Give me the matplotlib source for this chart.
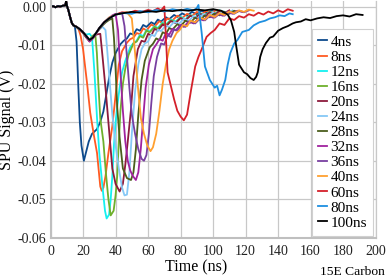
import matplotlib
matplotlib.use("Agg")
import matplotlib.pyplot as plt
from matplotlib.ticker import FormatStrFormatter

plt.rcParams['font.family'] = 'Liberation Serif'

# shared start of every trace (before the pulses separate)
lead_t = [0, 1.5, 3, 4.5, 6, 7.5, 9, 9.6, 10.2, 11, 12, 13, 14]
lead_v = [0.0, 0.0002, -0.0001, 0.0002, 0.0001, 0.0003, 0.0004, 0.0014, 0.0001, -0.0009, -0.0026, -0.0041, -0.0048]

t4 = [15, 16, 17, 18, 19, 20.5, 22, 23.5, 25.5, 28.5, 30.5, 32.5, 34, 36, 38, 40, 43, 45, 47, 49, 51, 53, 55, 57, 59, 62, 64,
      66, 68, 71, 73, 76, 78, 81, 84, 87, 90, 93, 96, 100]
v4 = [-0.0052, -0.009, -0.020, -0.030, -0.036, -0.0400, -0.0375, -0.0350, -0.0330, -0.0318, -0.0300, -0.0272, -0.0235, -0.0185,
      -0.0145, -0.0120, -0.0097, -0.0088, -0.0082, -0.0069, -0.0072, -0.0058, -0.0062, -0.0047, -0.0052, -0.0040, -0.0045,
      -0.0033, -0.0038, -0.0027, -0.0032, -0.0021, -0.0026, -0.0017, -0.0023, -0.0013, -0.0019, -0.0010, -0.0016, -0.0008]

t8 = [15.5, 17, 18.5, 20, 22.5, 24.4, 26.5, 28.6, 30.6, 31.5, 32.5, 33.8, 35.6, 38, 40, 42, 44, 47, 49, 51, 53, 55, 57, 59,
      62, 64, 67, 69, 72, 75, 78, 81, 84, 87, 90, 93, 96, 99, 102, 104]
v8 = [-0.0050, -0.0055, -0.0075, -0.0110, -0.0200, -0.0275, -0.0330, -0.0380, -0.0467, -0.0478, -0.0470, -0.0440, -0.0380, -0.0310,
      -0.0230, -0.0150, -0.0115, -0.0093, -0.0084, -0.0080, -0.0068, -0.0071, -0.0056, -0.0061, -0.0046, -0.0051, -0.0037, -0.0043,
      -0.0030, -0.0035, -0.0023, -0.0029, -0.0018, -0.0024, -0.0013, -0.0019, -0.0010, -0.0016, -0.0008, -0.0012]

t12 = [16, 18, 20, 22, 24, 25.5, 27, 28.6, 30, 32, 33.5, 34.5, 36, 37, 38, 39, 40, 41, 42.5, 44, 46, 49, 51, 53, 55, 57, 59, 61,
       64, 66, 69, 71, 74, 77, 80, 83, 86, 89, 92, 95, 98, 101, 104, 106]
v12 = [-0.0052, -0.0058, -0.0066, -0.0072, -0.0070, -0.0078, -0.017, -0.029, -0.038, -0.047, -0.053, -0.0550, -0.0540, -0.0500, -0.0440,
       -0.0360, -0.0300, -0.0260, -0.0210, -0.0170, -0.0140, -0.0105, -0.0094, -0.0088, -0.0072, -0.0076, -0.0060, -0.0064,
       -0.0050, -0.0055, -0.0040, -0.0046, -0.0033, -0.0038, -0.0026, -0.0032, -0.0021, -0.0027, -0.0016, -0.0022, -0.0012, -0.0018,
       -0.0009, -0.0013]

t16 = [16, 18, 20, 22, 24, 26, 27.5, 28.5, 29.4, 30.6, 32.5, 34, 35.6, 37, 38.8, 40, 41, 42, 43, 44.5, 46, 48, 51, 53, 55, 57, 59,
       61, 64, 66, 69, 71, 74, 77, 80, 83, 86, 89, 92, 95, 98, 101, 104, 108]
v16 = [-0.0052, -0.0060, -0.0068, -0.0078, -0.0085, -0.0075, -0.0070, -0.0120, -0.0200, -0.0290, -0.0350, -0.0430, -0.0500, -0.0542, -0.0530,
       -0.0490, -0.0440, -0.0350, -0.0270, -0.0200, -0.0160, -0.0125, -0.0095, -0.0090, -0.0076, -0.0080, -0.0062, -0.0066, -0.0052,
       -0.0057, -0.0043, -0.0048, -0.0035, -0.0040, -0.0028, -0.0034, -0.0022, -0.0028, -0.0017, -0.0023, -0.0013, -0.0019, -0.0010, -0.0014]

t20 = [16, 18, 20, 22, 24, 26, 28, 30.6, 32, 34, 36, 38, 40, 42.5, 44.5, 46, 47.5, 49.4, 51, 53.7, 56, 58, 60, 62, 64, 66, 69, 71,
       74, 77, 80, 83, 86, 89, 92, 95, 98, 101, 104, 107, 110]
v20 = [-0.0052, -0.0060, -0.0068, -0.0080, -0.0090, -0.0082, -0.0072, -0.0070, -0.0130, -0.0220, -0.0320, -0.0420, -0.0460, -0.0480, -0.0460,
       -0.0410, -0.0350, -0.0270, -0.0180, -0.0110, -0.0088, -0.0091, -0.0070, -0.0074, -0.0057, -0.0062, -0.0046, -0.0051, -0.0037,
       -0.0042, -0.0029, -0.0035, -0.0023, -0.0029, -0.0018, -0.0024, -0.0014, -0.0020, -0.0011, -0.0016, -0.0009]

t24 = [16, 18, 20, 22, 24, 26, 28, 30, 32, 33.8, 35, 36.5, 38, 40, 42, 44, 45.5, 47, 48.5, 50, 52, 54, 56, 58, 60, 62, 64, 66, 68,
       71, 73, 76, 79, 82, 85, 88, 91, 94, 97, 100, 103, 106, 109, 112]
v24 = [-0.0052, -0.0058, -0.0066, -0.0076, -0.0086, -0.0080, -0.0068, -0.0058, -0.0052, -0.0060, -0.0120, -0.0200, -0.0280, -0.0360, -0.0420,
       -0.0470, -0.0490, -0.0488, -0.0430, -0.0330, -0.0220, -0.0150, -0.0110, -0.0095, -0.0090, -0.0072, -0.0076, -0.0059, -0.0063,
       -0.0048, -0.0053, -0.0039, -0.0044, -0.0031, -0.0036, -0.0024, -0.0030, -0.0019, -0.0025, -0.0014, -0.0020, -0.0011, -0.0016, -0.0009]

t28 = [16, 18, 20, 22, 24, 26, 28, 30, 32, 34, 36, 38, 39, 40, 41, 42.5, 44.5, 47, 49.5, 51, 52.5, 54, 56, 58, 61, 63, 65, 67, 69,
       71, 73, 75, 78, 80, 83, 86, 89, 92, 95, 98, 101, 104, 107, 110, 113, 115]
v28 = [-0.0052, -0.0058, -0.0066, -0.0078, -0.0088, -0.0080, -0.0068, -0.0058, -0.0048, -0.0040, -0.0034, -0.0030, -0.0080, -0.0160, -0.0260,
       -0.0340, -0.0420, -0.0445, -0.0450, -0.0430, -0.0370, -0.0280, -0.0190, -0.0140, -0.0105, -0.0096, -0.0082, -0.0086, -0.0066,
       -0.0070, -0.0055, -0.0059, -0.0045, -0.0050, -0.0036, -0.0041, -0.0028, -0.0034, -0.0022, -0.0027, -0.0017, -0.0022, -0.0013,
       -0.0018, -0.0010, -0.0013]

t32 = [16, 18, 20, 22, 24, 26, 28, 30, 33, 36, 38, 40, 41.5, 43, 44.5, 46, 47.5, 49, 50.7, 52.5, 54, 55.5, 57, 58.5, 60.5, 63, 65,
       67, 69, 71, 73, 75, 77, 80, 82, 85, 88, 91, 94, 97, 100, 103, 106, 109, 112, 115, 118]
v32 = [-0.0052, -0.0058, -0.0066, -0.0078, -0.0090, -0.0082, -0.0070, -0.0056, -0.0040, -0.0030, -0.0022, -0.0018, -0.0060, -0.0170, -0.0270,
       -0.0350, -0.0400, -0.0425, -0.0440, -0.0450, -0.0430, -0.0370, -0.0290, -0.0210, -0.0150, -0.0110, -0.0098, -0.0084, -0.0088,
       -0.0068, -0.0072, -0.0057, -0.0061, -0.0047, -0.0052, -0.0038, -0.0043, -0.0030, -0.0035, -0.0023, -0.0028, -0.0018, -0.0023,
       -0.0013, -0.0018, -0.0010, -0.0013]

t36 = [16, 18, 20, 22, 24, 26, 28, 30, 33, 36, 39, 42, 44, 45.5, 47, 48.5, 50, 52, 54, 56, 57.5, 59, 60.5, 62, 63.5, 65.5, 68, 70,
       72, 74, 76, 78, 81, 83, 86, 89, 92, 95, 98, 101, 104, 107, 110, 113, 116, 119, 122]
v36 = [-0.0052, -0.0058, -0.0066, -0.0076, -0.0086, -0.0080, -0.0068, -0.0055, -0.0040, -0.0028, -0.0022, -0.0018, -0.0016, -0.0050, -0.0130,
       -0.0210, -0.0280, -0.0330, -0.0370, -0.0395, -0.0400, -0.0385, -0.0330, -0.0250, -0.0180, -0.0130, -0.0095, -0.0098, -0.0074,
       -0.0078, -0.0058, -0.0062, -0.0047, -0.0052, -0.0038, -0.0043, -0.0030, -0.0035, -0.0023, -0.0028, -0.0018, -0.0023, -0.0013,
       -0.0018, -0.0010, -0.0014, -0.0009]

t40 = [16, 18, 20, 22, 24, 26, 28, 30, 33, 36, 40, 44, 47, 50, 52, 54, 55.6, 57.5, 59.5, 61.5, 63, 65, 67, 69, 71, 73, 75, 77.5,
       79.5, 81.5, 84, 86, 89, 92, 95, 98, 101, 104, 107, 110, 113, 116, 119, 122, 125]
v40 = [-0.0052, -0.0058, -0.0066, -0.0076, -0.0086, -0.0080, -0.0068, -0.0055, -0.0040, -0.0028, -0.0020, -0.0016, -0.0014, -0.0030, -0.0120,
       -0.0220, -0.0290, -0.0330, -0.0360, -0.0375, -0.0365, -0.0330, -0.0270, -0.0200, -0.0150, -0.0110, -0.0088, -0.0068,
       -0.0060, -0.0047, -0.0050, -0.0036, -0.0040, -0.0028, -0.0033, -0.0021, -0.0026, -0.0016, -0.0021, -0.0012, -0.0017, -0.0009,
       -0.0013, -0.0007, -0.0010]

t60 = [16, 18, 20, 22, 24, 26, 28, 30, 33, 36, 40, 44, 48, 52, 56, 60, 63, 66, 68, 70, 71, 72, 74, 76, 78, 80, 82, 84, 86.5, 89, 91, 93,
       96, 98.5, 101, 104, 107, 110, 113, 116, 119, 122, 125, 128, 131, 134, 137, 140, 143, 146, 149]
v60 = [-0.0052, -0.0058, -0.0066, -0.0076, -0.0086, -0.0080, -0.0068, -0.0055, -0.0040, -0.0030, -0.0020, -0.0014, -0.0016, -0.0010, -0.0013,
       -0.0008, -0.0011, -0.0004, -0.0009, 0.0001, -0.0080, -0.0170, -0.0205, -0.0240, -0.0270, -0.0285, -0.0295, -0.0280, -0.0215, -0.0155,
       -0.0130, -0.0110, -0.0078, -0.0068, -0.0060, -0.0043, -0.0047, -0.0030, -0.0034, -0.0024, -0.0028, -0.0019, -0.0023, -0.0015, -0.0020,
       -0.0012, -0.0017, -0.0009, -0.0014, -0.0006, -0.0010]

t80 = [16, 18, 20, 22, 24, 26, 28, 30, 33, 36, 40, 45, 50, 55, 60, 65, 70, 75, 80, 84, 88, 90, 91, 93, 95, 98, 101, 102.5, 104, 105.5, 107.5,
       109, 110.6, 113, 115, 118, 122, 125, 128.5, 132, 135, 138, 141, 144, 147, 149]
v80 = [-0.0052, -0.0058, -0.0066, -0.0076, -0.0086, -0.0080, -0.0068, -0.0055, -0.0040, -0.0030, -0.0020, -0.0016, -0.0018, -0.0011, -0.0014,
       -0.0008, -0.0012, -0.0006, -0.0010, -0.0005, -0.0009, -0.0003, 0.0005, -0.0068, -0.0155, -0.0190, -0.0210, -0.0205, -0.0230, -0.0215,
       -0.0190, -0.0150, -0.0120, -0.0095, -0.0086, -0.0065, -0.0060, -0.0048, -0.0040, -0.0036, -0.0030, -0.0027, -0.0022, -0.0024, -0.0017, -0.0019]

t100 = [16, 18, 20, 22, 24, 26, 28, 30, 33, 36, 40, 45, 50, 55, 60, 65, 70, 75, 80, 85, 90, 95, 100, 105, 109, 111, 113, 114, 116, 117.5, 119,
        121, 123, 125, 126.5, 127.5, 129, 130.5, 132.5, 135, 137, 140, 143, 146, 149, 151, 154, 157, 160, 164, 168, 172, 176, 180, 184, 188, 192]
v100 = [-0.0052, -0.0058, -0.0066, -0.0076, -0.0086, -0.0080, -0.0068, -0.0055, -0.0040, -0.0030, -0.0020, -0.0016, -0.0013, -0.0015, -0.0011,
        -0.0013, -0.0009, -0.0011, -0.0008, -0.0010, -0.0007, -0.0009, -0.0006, -0.0010, -0.0020, -0.0035, -0.0065, -0.0095, -0.0150, -0.0160,
        -0.0170, -0.0175, -0.0185, -0.0190, -0.0182, -0.0170, -0.0130, -0.0110, -0.0094, -0.0080, -0.0077, -0.0062, -0.0055, -0.0050, -0.0043,
        -0.0040, -0.0038, -0.0032, -0.0035, -0.0030, -0.0027, -0.0029, -0.0024, -0.0022, -0.0025, -0.0019, -0.0021]

labels = ['4ns', '8ns', '12ns', '16ns', '20ns', '24ns', '28ns', '32ns', '36ns', '40ns', '60ns', '80ns', '100ns']
times = [t4, t8, t12, t16, t20, t24, t28, t32, t36, t40, t60, t80, t100]
values = [v4, v8, v12, v16, v20, v24, v28, v32, v36, v40, v60, v80, v100]
colors = ['#0d4a8c', '#ff5a22', '#14f0f0', '#6eb02c', '#8c1a3c', '#86c8f6', '#4b5e1c', '#a0229e',
          '#7840a0', '#ffa030', '#d4202a', '#1e8fe0', '#000000']

fig = plt.figure(figsize=(3.86, 2.79), dpi=100)
ax = fig.add_axes([0.131, 0.148, 0.842, 0.848])

for t, v, c, lab in zip(times, values, colors, labels):
    ax.plot(lead_t + t, lead_v + v, color=c, lw=1.3, label=lab)

ax.set_xlim(0, 200)
ax.set_ylim(-0.06, 0.0015)
ax.set_xticks(range(0, 201, 20))
ax.set_yticks([-0.06, -0.05, -0.04, -0.03, -0.02, -0.01, 0.0])
ax.yaxis.set_major_formatter(FormatStrFormatter('%.2f'))
ax.tick_params(length=0, labelsize=10, colors='#222222')
ax.tick_params(axis='x', pad=5)
ax.tick_params(axis='y', pad=3)
ax.grid(True, color='#c8c8c8', lw=0.9)
ax.set_axisbelow(True)
ax.spines['top'].set_visible(False)
ax.spines['right'].set_color('#c8c8c8')
ax.spines['right'].set_linewidth(0.9)
for s in ['left', 'bottom']:
    ax.spines[s].set_color('#bfbfbf')
    ax.spines[s].set_linewidth(1.5)

ax.set_xlabel('Time (ns)', fontsize=11.5)
ax.xaxis.set_label_coords(0.449, -0.09)
ax.set_ylabel('SPU Signal (V)', fontsize=11.5)
ax.yaxis.set_label_coords(-0.108, 0.5)

leg = ax.legend(loc='upper right', bbox_to_anchor=(0.966, 0.896), bbox_transform=fig.transFigure,
                fontsize=11, labelspacing=0.09, handlelength=0.6, handletextpad=0.2,
                borderpad=0.4, borderaxespad=0, fancybox=False, framealpha=1)
leg.get_frame().set_edgecolor('#d0d0d0')
leg.get_frame().set_linewidth(0.8)

fig.text(0.997, 0.025, '15E Carbon', fontsize=9.7, ha='right', va='center')

fig.savefig('out.png', dpi=100)
